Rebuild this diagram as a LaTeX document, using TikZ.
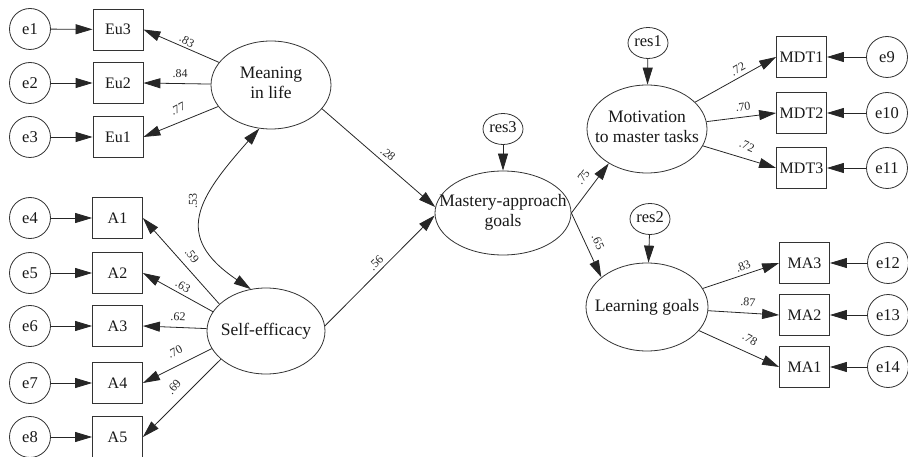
\documentclass[tikz,border=0pt]{standalone}
\usepackage{fontspec}
\setmainfont{Liberation Serif}
\usetikzlibrary{shapes.geometric,arrows.meta}
\newcommand{\zw}[1]{\makebox[0pt]{\begin{tabular}{@{}c@{}}#1\end{tabular}}}
\begin{document}
\begin{tikzpicture}[x=1pt,y=-1pt,
  latent/.style={ellipse, draw=black!80, line width=0.8pt, fill=white, inner sep=0pt, text=black!90, font=\fontsize{17.5}{20}\selectfont},
  errc/.style={circle, draw=black!80, line width=0.8pt, fill=white, minimum size=41pt, inner sep=0pt, text=black!90, font=\fontsize{16.5}{18}\selectfont},
  resc/.style={ellipse, draw=black!80, line width=0.8pt, fill=white, minimum width=40pt, minimum height=31pt, inner sep=0pt, text=black!90, font=\fontsize{16.5}{18}\selectfont},
  obs/.style={rectangle, draw=black!80, line width=0.8pt, fill=white, minimum width=50pt, minimum height=41pt, inner sep=0pt, text=black!90, font=\fontsize{16}{18}\selectfont},
  arr/.style={-{Triangle[length=17pt,width=10pt]}, line width=0.8pt, draw=black!85},
  darr/.style={{Triangle[length=17pt,width=10pt]}-{Triangle[length=17pt,width=10pt]}, line width=0.8pt, draw=black!85},
  lbl/.style={inner sep=0pt, text=black!85, font=\fontsize{12}{12}\selectfont}]
\useasboundingbox (0,0) rectangle (908,457);

% left: meaning in life
\node[errc] (e1) at (30,29) {e1};
\node[errc] (e2) at (30,83) {e2};
\node[errc] (e3) at (30,137) {e3};
\node[obs] (eu3) at (118,29.5) {Eu3};
\node[obs] (eu2) at (118,83) {Eu2};
\node[obs] (eu1) at (118,137) {Eu1};
\node[latent, minimum width=120pt, minimum height=88pt] (meaning) at (271,85) {\zw{Meaning\\in life}};

% left: self-efficacy
\node[errc] (e4) at (30,218) {e4};
\node[errc] (e5) at (30,273) {e5};
\node[errc] (e6) at (30,326) {e6};
\node[errc] (e7) at (30,383) {e7};
\node[errc] (e8) at (30,437) {e8};
\node[obs] (a1) at (117.5,218) {A1};
\node[obs] (a2) at (117.5,273) {A2};
\node[obs] (a3) at (117.5,326) {A3};
\node[obs] (a4) at (117.5,383) {A4};
\node[obs] (a5) at (117.5,437) {A5};
\node[latent, minimum width=118pt, minimum height=86pt] (selfeff) at (266,331) {\zw{Self-efficacy}};

% middle
\node[latent, minimum width=136pt, minimum height=84pt] (mastery) at (503,213) {\zw{Mastery-approach\\goals}};
\node[resc] (res3) at (503,129) {\zw{res3}};

% right top
\node[latent, minimum width=120pt, minimum height=88pt] (motiv) at (647,129) {\zw{Motivation\\to master tasks}};
\node[resc] (res1) at (648,43) {\zw{res1}};
\node[obs] (mdt1) at (801.5,57) {MDT1};
\node[obs] (mdt2) at (801.5,113) {MDT2};
\node[obs] (mdt3) at (801.5,168) {MDT3};
\node[errc] (e9) at (887,57) {e9};
\node[errc] (e10) at (887,113) {e10};
\node[errc] (e11) at (887,168) {e11};

% right bottom
\node[latent, minimum width=122pt, minimum height=88pt] (learn) at (647,307) {\zw{Learning goals}};
\node[resc] (res2) at (650,219) {\zw{res2}};
\node[obs] (ma3) at (804.5,263) {MA3};
\node[obs] (ma2) at (804.5,315) {MA2};
\node[obs] (ma1) at (804.5,367) {MA1};
\node[errc] (e12) at (888,263) {e12};
\node[errc] (e13) at (888,315) {e13};
\node[errc] (e14) at (888,367) {e14};

% error arrows
\draw[arr] (e1) -- (eu3);
\draw[arr] (e2) -- (eu2);
\draw[arr] (e3) -- (eu1);
\draw[arr] (e4) -- (a1);
\draw[arr] (e5) -- (a2);
\draw[arr] (e6) -- (a3);
\draw[arr] (e7) -- (a4);
\draw[arr] (e8) -- (a5);
\draw[arr] (e9) -- (mdt1);
\draw[arr] (e10) -- (mdt2);
\draw[arr] (e11) -- (mdt3);
\draw[arr] (e12) -- (ma3);
\draw[arr] (e13) -- (ma2);
\draw[arr] (e14) -- (ma1);
\draw[arr] (res3) -- (mastery);
\draw[arr] (res1) -- (motiv);
\draw[arr] (res2) -- (learn);

% loadings
\draw[arr] (meaning) -- (eu3.east);
\draw[arr] (meaning) -- (eu2.east);
\draw[arr] (meaning) -- (eu1.east);
\draw[arr] (selfeff.150) -- (a1.east);
\draw[arr] (selfeff.160) -- (a2.east);
\draw[arr] (selfeff) -- (a3.east);
\draw[arr] (selfeff.198) -- (a4.east);
\draw[arr] (selfeff.212) -- (a5.east);
\draw[arr] (motiv) -- (mdt1.west);
\draw[arr] (motiv) -- (mdt2.west);
\draw[arr] (motiv) -- (mdt3.west);
\draw[arr] (learn) -- (ma3.west);
\draw[arr] (learn) -- (ma2.west);
\draw[arr] (learn) -- (ma1.west);

% structural paths
\draw[arr] (meaning.-25) -- (mastery.175);
\draw[arr] (selfeff.5) -- (mastery.182);
\draw[arr] (mastery.east) -- (motiv.222);
\draw[arr] (mastery.east) -- (learn.147);

% covariance
\draw[darr] (meaning.255) .. controls (198,198) and (172,236) .. (selfeff.110);

% labels
\node[lbl, rotate=-28] (l1) at (187,41) {.83};
\node[lbl] (l2) at (180,74) {.84};
\node[lbl, rotate=27] (l3) at (178,109) {.77};
\node[lbl, rotate=90] (l4) at (193,201) {.53};
\node[lbl, rotate=-52] (l5) at (192,256) {.59};
\node[lbl, rotate=-30] (l6) at (183,286) {.63};
\node[lbl, rotate=-3] (l7) at (178,317) {.62};
\node[lbl, rotate=28] (l8) at (175,352) {.70};
\node[lbl, rotate=50] (l9) at (174,387) {.69};
\node[lbl, rotate=-40] (l10) at (388,154) {.28};
\node[lbl, rotate=45] (l11) at (376,263) {.56};
\node[lbl, rotate=54] (l12) at (583,177) {.75};
\node[lbl, rotate=-65] (l13) at (598,242) {.65};
\node[lbl, rotate=29] (l14) at (738,69) {.72};
\node[lbl, rotate=7] (l15) at (743,107) {.70};
\node[lbl, rotate=-23] (l16) at (747,146) {.72};
\node[lbl, rotate=22] (l17) at (743,266) {.83};
\node[lbl, rotate=-4] (l18) at (748,302) {.87};
\node[lbl, rotate=-29] (l19) at (750,339) {.78};
\end{tikzpicture}
\end{document}
